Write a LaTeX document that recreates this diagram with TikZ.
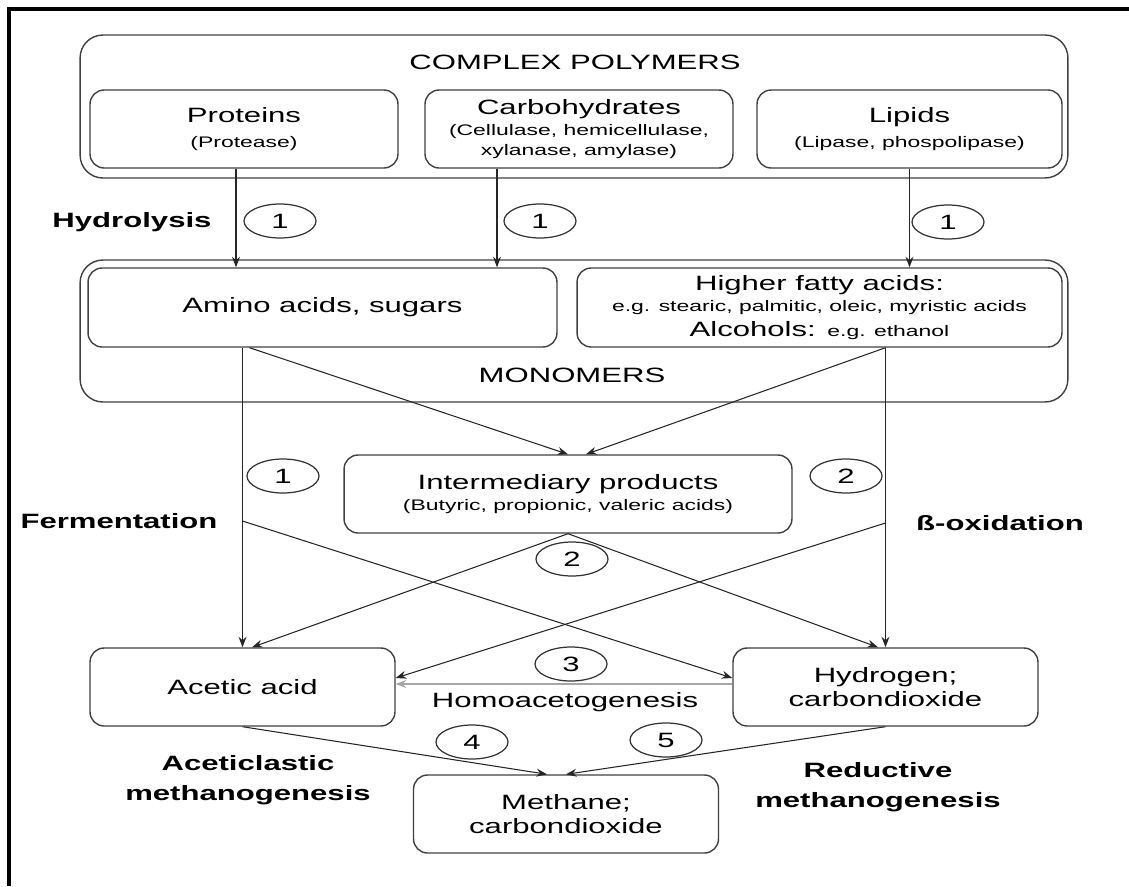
\documentclass[tikz,border=0pt]{standalone}
\usepackage{fontspec}
\setmainfont{Liberation Sans}[FakeStretch=1.5]
\usepackage{tikz}
\usetikzlibrary{shapes.geometric,arrows.meta}
\newcommand{\smalltxt}{\fontsize{8.7}{11}\selectfont}

\begin{document}
\begin{tikzpicture}[x=0.02cm,y=-0.02cm, >={Stealth[length=6pt,width=4.5pt]},
 every node/.style={font=\fontsize{11.8}{14}\selectfont,align=center},
 box/.style={draw=black!75,line width=0.8pt,rounded corners=8pt,minimum width=6.1cm,minimum height=1.56cm,inner sep=2pt},
 group/.style={draw=black!75,line width=0.8pt,rounded corners=13pt,minimum width=19.76cm},
 stepno/.style={draw=black!80,ellipse,line width=0.7pt,minimum width=1.44cm,minimum height=0.68cm,inner sep=0pt},
 phase/.style={font=\fontsize{11.8}{17}\selectfont\bfseries},
 flow/.style={->,line width=0.6pt,black!85}]
 \useasboundingbox (0,0) rectangle (1129,886);
 \draw[line width=2.3pt] (9,886) -- (9,9) -- (1129,9);

 \node[group,minimum height=2.86cm] (polymers) at (574,106.5) {};
 \node (polytitle) at (575,62) {COMPLEX POLYMERS};
 \node[box,minimum width=6.16cm] (proteins) at (244,129) {Proteins\\{\smalltxt (Protease)}};
 \node[box,minimum width=6.16cm] (carbo) at (579,129) {Carbohydrates\\[-2pt]{\smalltxt (Cellulase, hemicellulase,}\\[-3pt]{\smalltxt xylanase, amylase)}};
 \node[box] (lipids) at (909.5,129) {Lipids\\{\smalltxt (Lipase, phospolipase)}};

 \node[group,minimum height=2.84cm] (monomers) at (574,331) {};
 \node (montitle) at (572,375) {MONOMERS};
 \node[box,minimum width=9.38cm,minimum height=1.58cm] (amino) at (322.5,307.5) {Amino acids, sugars};
 \node[box,minimum width=9.7cm,minimum height=1.58cm] (fatty) at (819.5,307.5) {Higher fatty acids:\\[-2pt]{\smalltxt e.g. stearic, palmitic, oleic, myristic acids}\\Alcohols: {\smalltxt e.g. ethanol}};

 \node[box,minimum width=8.96cm] (inter) at (568,494) {Intermediary products\\[-2pt]{\smalltxt (Butyric, propionic, valeric acids)}};
 \node[box] (acetic) at (242.5,687) {Acetic acid};
 \node[box] (hydro) at (885.5,687) {Hydrogen;\\carbondioxide};
 \node[box] (methane) at (566,814) {Methane;\\carbondioxide};

 \node[phase] (hydrolysis) at (132,222) {Hydrolysis};
 \node[phase] (ferm) at (119,521) {Fermentation};
 \node[phase] (betaox) at (1000,523) {ß-oxidation};
 \node (homo) at (565,702) {Homoacetogenesis};
 \node[phase] (aceticlastic) at (248,780) {Aceticlastic\\methanogenesis};
 \node[phase] (reductive) at (878,787) {Reductive\\methanogenesis};

 \node[stepno] (s1a) at (280,221) {1};
 \node[stepno] (s1b) at (540,221) {1};
 \node[stepno] (s1c) at (948,222) {1};
 \node[stepno] (s1d) at (283,476) {1};
 \node[stepno] (s2a) at (846,476) {2};
 \node[stepno] (s2b) at (572,559) {2};
 \node[stepno] (s3) at (571,664) {3};
 \node[stepno] (s4) at (472,742) {4};
 \node[stepno] (s5) at (666,740) {5};

 \coordinate (aminoout) at (acetic.north |- amino.south);
 \coordinate (fattyout) at (hydro.north |- fatty.south);
 \coordinate (lsplit) at (acetic.north |- ferm);
 \coordinate (rsplit) at (hydro.north |- betaox);

 \draw[flow] ([xshift=-0.16cm]proteins.south) -- ([xshift=-0.16cm]proteins.south |- amino.north);
 \draw[flow] ([xshift=-1.64cm]carbo.south) -- ([xshift=-1.64cm]carbo.south |- amino.north);
 \draw[flow] (lipids.south) -- (lipids.south |- fatty.north);

 \draw[flow] (aminoout) -- (acetic.north);
 \draw[flow] ([xshift=0.14cm]aminoout) -- (inter.north);
 \draw[flow] (fattyout) -- (hydro.north);
 \draw[flow] (fattyout) -- ([xshift=0.36cm]inter.north);
 \draw[flow] (inter.south) -- ([xshift=0.19cm]acetic.north);
 \draw[flow] (inter.south) -- ([xshift=-0.15cm]hydro.north);
 \draw[flow] (lsplit) -- ([yshift=0.18cm]hydro.west);
 \draw[flow] (rsplit) -- ([yshift=0.18cm]acetic.east);
 \draw[->,line width=1.2pt,black!35] ([yshift=0.06cm]hydro.west) -- ([yshift=0.06cm]acetic.east);
 \draw[flow] (acetic.south) -- ([xshift=-0.38cm]methane.north);
 \draw[flow] (hydro.south) -- (methane.north);
\end{tikzpicture}
\end{document}
